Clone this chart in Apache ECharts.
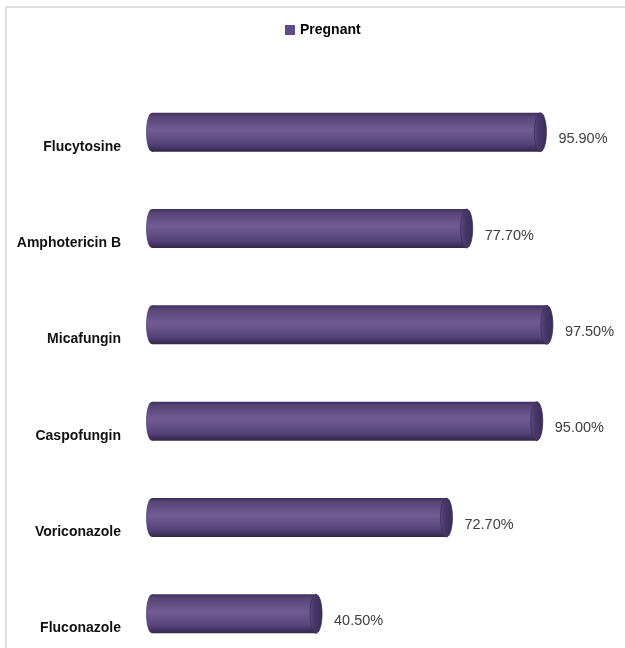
<!DOCTYPE html>
<html>
<head>
<meta charset="utf-8">
<script src="https://cdn.jsdelivr.net/npm/echarts@6/dist/echarts.min.js"></script>
<style>
html,body{margin:0;padding:0;background:#fff;}
#chart{width:625px;height:648px;}
</style>
</head>
<body>
<div id="chart"></div>
<script>
const categories = ['Flucytosine', 'Amphotericin B', 'Micafungin', 'Caspofungin', 'Voriconazole', 'Fluconazole'];
const pregnant = [95.9, 77.7, 97.5, 95.0, 72.7, 40.5];
const seriesName = 'Pregnant';

const chart = echarts.init(document.getElementById('chart'));

const bodyGradient = new echarts.graphic.LinearGradient(0, 0, 0, 1, [
  { offset: 0, color: '#3e2f5e' },
  { offset: 0.1, color: '#564575' },
  { offset: 0.45, color: '#705c94' },
  { offset: 0.8, color: '#54447a' },
  { offset: 1, color: '#33264c' }
]);
const capGradient = new echarts.graphic.LinearGradient(0, 0, 1, 0, [
  { offset: 0, color: '#5e4e82' },
  { offset: 0.35, color: '#48386a' },
  { offset: 1, color: '#3a2c56' }
]);

function renderItem(params, api) {
  const v = api.value(0);
  const cat = api.value(1);
  const p0 = api.coord([0, cat]);
  const p1 = api.coord([v, cat]);
  const h = 39;
  const ry = h / 2;
  const rx = 6;
  const yc = p0[1];
  return {
    type: 'group',
    children: [
      { type: 'ellipse', shape: { cx: p0[0], cy: yc, rx: rx, ry: ry }, style: { fill: bodyGradient } },
      { type: 'rect', shape: { x: p0[0], y: yc - ry, width: p1[0] - p0[0], height: h }, style: { fill: bodyGradient } },
      { type: 'ellipse', shape: { cx: p1[0], cy: yc, rx: rx, ry: ry }, style: { fill: capGradient, stroke: '#3a2c55', lineWidth: 0.8 } },
      { type: 'text', style: { text: v.toFixed(2) + '%', x: p1[0] + rx + 12, y: yc + 7, fill: '#404040', font: '14.5px "Liberation Sans", Arial, sans-serif', align: 'left', verticalAlign: 'middle' } }
    ]
  };
}

const option = {
  backgroundColor: '#ffffff',
  animation: false,
  legend: {
    data: [{ name: seriesName, icon: 'rect' }],
    left: 280,
    top: 18,
    itemWidth: 10,
    itemHeight: 10,
    itemGap: 10,
    textStyle: { fontFamily: '"Liberation Sans", Arial, sans-serif', fontWeight: 'bold', fontSize: 14, color: '#000' }
  },
  grid: { left: 152, top: 84, width: 405, height: 578, containLabel: false, outerBoundsMode: 'none' },
  xAxis: {
    type: 'value', min: 0, max: 100,
    show: false
  },
  yAxis: {
    type: 'category',
    data: categories,
    inverse: true,
    axisLine: { show: false },
    axisTick: { show: false },
    splitLine: { show: false },
    axisLabel: {
      margin: 31,
      formatter: function (v) { return '{a|' + v + '}'; },
      rich: {
        a: {
          padding: [29, 0, 0, 0],
          fontFamily: '"Liberation Sans", Arial, sans-serif',
          fontWeight: 'bold',
          fontSize: 14,
          color: '#111'
        }
      }
    }
  },
  graphic: [
    { type: 'line', shape: { x1: 6, y1: 7, x2: 625, y2: 7 }, style: { stroke: '#d4d4d4', lineWidth: 1.5 } },
    { type: 'line', shape: { x1: 6, y1: 7, x2: 6, y2: 648 }, style: { stroke: '#d4d4d4', lineWidth: 1.5 } }
  ],
  series: [{
    name: seriesName,
    type: 'custom',
    renderItem: renderItem,
    itemStyle: { color: '#5f4b8b' },
    encode: { x: 0, y: 1 },
    data: pregnant.map((v, i) => [v, categories[i]]),
    clip: false
  }]
};
chart.setOption(option);
</script>
</body>
</html>
